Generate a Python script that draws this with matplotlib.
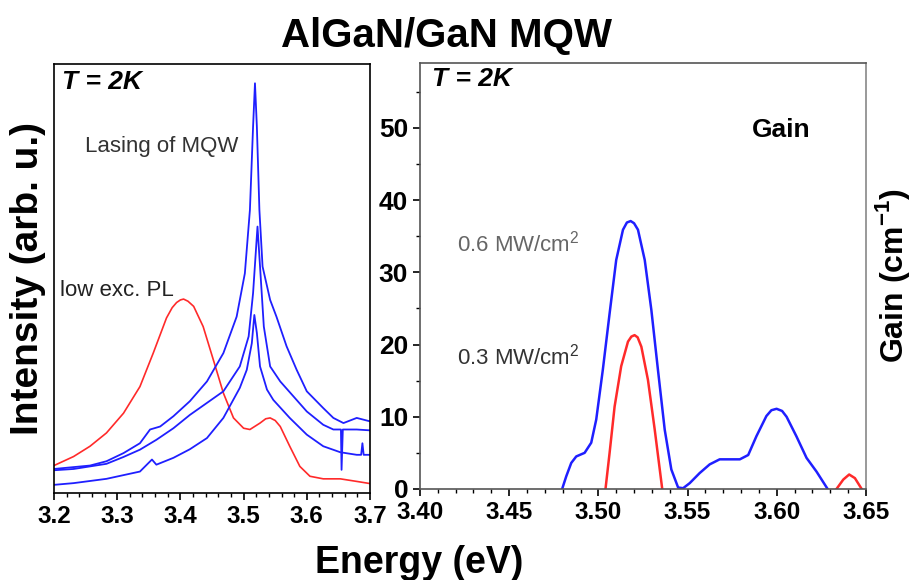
import matplotlib.pyplot as plt
from matplotlib.ticker import MultipleLocator

# ---- left panel: PL spectra (arb. units, 0-100 scale) ----
pl_E = [3.200, 3.231, 3.257, 3.283, 3.310, 3.336, 3.357, 3.378, 3.387, 3.394, 3.400,
        3.405, 3.412, 3.421, 3.436, 3.452, 3.468, 3.484, 3.500, 3.510, 3.526, 3.535,
        3.542, 3.550, 3.558, 3.573, 3.589, 3.605, 3.626, 3.653, 3.679, 3.700]
pl_I = [6.4, 8.5, 10.9, 14.0, 18.6, 24.8, 32.6, 40.8, 43.2, 44.4, 45.0,
        45.2, 44.7, 43.5, 38.8, 31.1, 23.3, 17.5, 15.1, 14.8, 16.3, 17.3,
        17.5, 16.9, 15.5, 10.9, 6.2, 3.9, 3.3, 3.3, 2.7, 2.2]

las1_E = [3.200, 3.231, 3.283, 3.336, 3.355, 3.362, 3.389, 3.415, 3.442, 3.468, 3.494,
          3.505, 3.513, 3.517, 3.521, 3.526, 3.537, 3.547, 3.573, 3.600, 3.626, 3.653,
          3.679, 3.686, 3.688, 3.690, 3.700]
las1_I = [1.9, 2.3, 3.3, 5.0, 7.8, 6.6, 8.2, 10.2, 12.8, 17.5, 24.5,
          28.7, 34.9, 41.5, 37.3, 29.5, 24.1, 21.7, 17.5, 13.6, 10.9, 9.5,
          8.9, 8.9, 11.6, 8.9, 8.9]

las2_E = [3.200, 3.231, 3.283, 3.310, 3.336, 3.362, 3.389, 3.415, 3.442, 3.468, 3.494,
          3.508, 3.515, 3.522, 3.527, 3.532, 3.542, 3.558, 3.579, 3.600, 3.626, 3.642,
          3.654, 3.655, 3.657, 3.679, 3.700]
las2_I = [5.3, 5.6, 6.8, 8.4, 10.1, 12.4, 15.1, 18.2, 21.0, 23.7, 29.5,
          36.5, 46.6, 62.1, 50.5, 38.8, 29.5, 26.0, 22.5, 19.0, 15.9, 14.8,
          14.8, 5.4, 14.8, 14.8, 14.6]

las3_E = [3.200, 3.257, 3.283, 3.310, 3.336, 3.352, 3.368, 3.389, 3.415, 3.442, 3.468,
          3.489, 3.502, 3.510, 3.515, 3.518, 3.521, 3.525, 3.530, 3.542, 3.552, 3.568,
          3.584, 3.600, 3.626, 3.642, 3.658, 3.679, 3.700]
las3_I = [5.6, 6.4, 7.4, 9.3, 11.6, 14.8, 15.5, 17.9, 21.4, 26.0, 32.6,
          41.1, 51.2, 66.0, 85.4, 95.5, 85.4, 66.0, 52.8, 45.0, 41.1, 34.2,
          28.7, 23.7, 19.8, 17.5, 16.3, 17.5, 16.7]

# ---- right panel: gain spectra (cm^-1) ----
g06_E = [3.4797, 3.482, 3.4848, 3.4876, 3.4923, 3.496, 3.4988, 3.5025, 3.5063, 3.510,
         3.5138, 3.516, 3.5181, 3.520, 3.5222, 3.526, 3.5297, 3.5334, 3.5372, 3.5409,
         3.5447, 3.5475, 3.5512, 3.5568, 3.5624, 3.568, 3.5737, 3.5793, 3.584, 3.5886,
         3.5942, 3.597, 3.5999, 3.603, 3.6055, 3.611, 3.6167, 3.6223, 3.6285]
g06 = [0.0, 1.75, 3.6, 4.5, 5.0, 6.4, 9.6, 16.5, 24.3, 31.7,
       35.9, 36.9, 37.1, 36.8, 35.9, 31.7, 24.8, 16.5, 8.2, 2.7,
       0.2, 0.1, 0.8, 2.2, 3.4, 4.1, 4.1, 4.1, 4.7, 7.3,
       10.1, 10.9, 11.1, 10.8, 10.0, 7.3, 4.3, 2.4, 0.0]

g03_E = [3.504, 3.5063, 3.5091, 3.5128, 3.5166, 3.5185, 3.5203, 3.522, 3.5241, 3.5278,
         3.5316, 3.5358]
g03 = [0.0, 5.0, 11.4, 17.0, 20.4, 21.1, 21.3, 21.0, 19.7, 15.1,
       8.2, 0.0]

g03b_E = [3.6335, 3.6373, 3.6406, 3.6438, 3.6476]
g03b = [0.0, 1.3, 2.0, 1.5, 0.0]

blue = '#1f1fff'
red = '#ff2a2a'
plt.rcParams['font.family'] = ['Liberation Sans', 'DejaVu Sans']
plt.rcParams['mathtext.fontset'] = 'custom'
plt.rcParams['mathtext.rm'] = 'Liberation Sans'
plt.rcParams['mathtext.bf'] = 'Liberation Sans:bold'

fig = plt.figure(figsize=(9.12, 5.80), dpi=100)
ax1 = fig.add_axes([0.0592, 0.150, 0.3465, 0.7397])
ax2 = fig.add_axes([0.4605, 0.157, 0.489, 0.7345])

# left panel
ax1.plot(pl_E, pl_I, color=red, lw=1.2)
for e, i in [(las1_E, las1_I), (las2_E, las2_I), (las3_E, las3_I)]:
    ax1.plot(e, i, color=blue, lw=1.3)
ax1.set_xlim(3.2, 3.7)
ax1.set_ylim(0, 100)
ax1.set_yticks([])
ax1.xaxis.set_minor_locator(MultipleLocator(0.02))
ax1.set_xticks([3.2, 3.3, 3.4, 3.5, 3.6, 3.7])
ax1.set_xticklabels(['3.2', '3.3', '3.4', '3.5', '3.6', '3.7'])
ax1.set_ylabel('Intensity (arb. u.)', fontsize=28, fontweight='bold', labelpad=6)
ax1.text(0.025, 0.985, 'T = 2K', transform=ax1.transAxes, fontsize=19,
         fontweight='bold', style='italic', va='top', ha='left')
ax1.text(0.098, 0.807, 'Lasing of MQW', transform=ax1.transAxes, fontsize=16,
         color='#333333', va='center')
ax1.text(0.019, 0.471, 'low exc. PL', transform=ax1.transAxes, fontsize=16,
         color='#222222', va='center')

# right panel
ax2.plot(g06_E, g06, color=blue, lw=1.8)
ax2.plot(g03_E, g03, color=red, lw=1.8)
ax2.plot(g03b_E, g03b, color=red, lw=1.8)
ax2.set_xlim(3.40, 3.65)
ax2.set_ylim(0, 59)
ax2.xaxis.set_minor_locator(MultipleLocator(0.01))
ax2.yaxis.set_minor_locator(MultipleLocator(5))
ax2.set_xticks([3.40, 3.45, 3.50, 3.55, 3.60, 3.65])
ax2.set_xticklabels(['3.40', '3.45', '3.50', '3.55', '3.60', '3.65'])
ax2.set_yticks([0, 10, 20, 30, 40, 50])
ax2.set_ylabel('Gain (cm$^{\\mathbf{-1}}$)', fontsize=23, fontweight='bold', labelpad=5)
ax2.yaxis.set_label_position('right')
ax2.text(0.027, 0.99, 'T = 2K', transform=ax2.transAxes, fontsize=19,
         fontweight='bold', style='italic', va='top', ha='left')
ax2.text(0.744, 0.843, 'Gain', transform=ax2.transAxes, fontsize=19,
         fontweight='bold', va='center')
ax2.text(0.083, 0.577, '0.6 MW/cm$^2$', transform=ax2.transAxes, fontsize=16,
         color='#666666', va='center')
ax2.text(0.083, 0.31, '0.3 MW/cm$^2$', transform=ax2.transAxes, fontsize=16,
         color='#333333', va='center')

for ax in (ax1, ax2):
    ax.tick_params(which='major', direction='out', length=5, width=1.2)
    ax.tick_params(which='minor', direction='out', length=3, width=1.0)
    for lab in ax.get_xticklabels():
        lab.set_fontweight('bold')
        lab.set_fontsize(17.5)
    for s in ax.spines.values():
        s.set_linewidth(1.2)
for lab in ax2.get_yticklabels():
    lab.set_fontweight('bold')
    lab.set_fontsize(19)
for s in ax2.spines.values():
    s.set_color('#555555')
ax2.spines['right'].set_color('#888888')

fig.text(0.49, 0.919, 'AlGaN/GaN MQW', ha='center', va='baseline', fontsize=29,
         fontweight='bold')
fig.text(0.46, 0.012, 'Energy (eV)', ha='center', va='baseline', fontsize=27,
         fontweight='bold')

fig.savefig('out.png', dpi=100)
